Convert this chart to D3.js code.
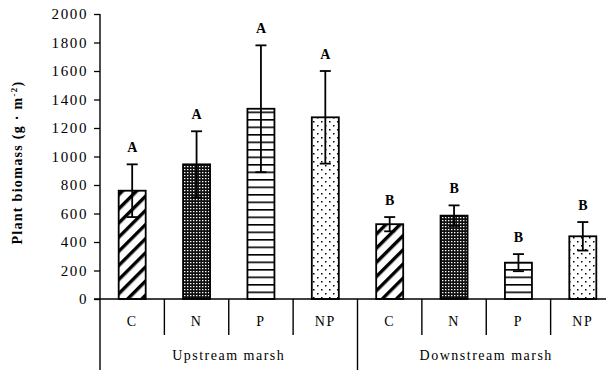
<!DOCTYPE html>
<html>
<head>
<meta charset="utf-8">
<script src="https://cdn.jsdelivr.net/npm/d3@7"></script>
<style>
  html, body { margin: 0; padding: 0; background: #fff; }
  svg { display: block; }
  text { font-family: "Liberation Serif", "Times New Roman", serif; fill: #000; }
</style>
</head>
<body>
<svg id="chart" width="606" height="370"></svg>
<script>
// Plant biomass by nutrient treatment in two marshes
const sites = ["Upstream marsh", "Downstream marsh"];
const treatments = ["C", "N", "P", "NP"];
const biomass = [760, 945, 1335, 1275, 525, 585, 255, 440];
const stdErr = [185, 232, 445, 325, 50, 72, 60, 100];
const letters = ["A", "A", "A", "A", "B", "B", "B", "B"];
const yTicks = [0, 200, 400, 600, 800, 1000, 1200, 1400, 1600, 1800, 2000];

const rows = biomass.map((v, i) => ({
  key: i,
  site: sites[Math.floor(i / treatments.length)],
  treatment: treatments[i % treatments.length],
  value: v,
  se: stdErr[i],
  letter: letters[i]
}));

const svg = d3.select("#chart");
const W = 606;
const plotLeft = 100, plotRight = 615, plotTop = 14, plotBottom = 299;

const x = d3.scaleBand().domain(rows.map(d => d.key)).range([plotLeft, plotRight]).paddingInner(0).paddingOuter(0);
const y = d3.scaleLinear().domain([0, 2000]).range([plotBottom, plotTop]);
const barW = 27;

// fill patterns for each treatment
const defs = svg.append("defs");

const diag = defs.append("pattern").attr("id", "pat-C")
  .attr("patternUnits", "userSpaceOnUse").attr("width", 10).attr("height", 10)
  .attr("patternTransform", "rotate(45)");
diag.append("rect").attr("width", 10).attr("height", 10).attr("fill", "#fff");
diag.append("rect").attr("x", 0).attr("y", 0).attr("width", 3.4).attr("height", 10).attr("fill", "#000");

const dense = defs.append("pattern").attr("id", "pat-N")
  .attr("patternUnits", "userSpaceOnUse").attr("width", 3).attr("height", 3);
dense.append("rect").attr("width", 3).attr("height", 3).attr("fill", "#111");
dense.append("rect").attr("x", 1).attr("y", 1).attr("width", 1.4).attr("height", 1.2).attr("fill", "#fff");

const horiz = defs.append("pattern").attr("id", "pat-P")
  .attr("patternUnits", "userSpaceOnUse").attr("width", 10).attr("height", 7.5)
  .attr("y", plotBottom);
horiz.append("rect").attr("width", 10).attr("height", 7.5).attr("fill", "#fff");
horiz.append("rect").attr("x", 0).attr("y", 0).attr("width", 10).attr("height", 1.6).attr("fill", "#000");

const dots = defs.append("pattern").attr("id", "pat-NP")
  .attr("patternUnits", "userSpaceOnUse").attr("width", 8).attr("height", 8);
dots.append("rect").attr("width", 8).attr("height", 8).attr("fill", "#fff");
dots.append("rect").attr("x", 1).attr("y", 1).attr("width", 1.5).attr("height", 1.5).attr("fill", "#000");
dots.append("rect").attr("x", 5).attr("y", 5).attr("width", 1.5).attr("height", 1.5).attr("fill", "#000");

// bars
svg.append("g").selectAll("rect").data(rows).join("rect")
  .attr("x", d => x(d.key) + x.bandwidth() / 2 - barW / 2)
  .attr("y", d => y(d.value))
  .attr("width", barW)
  .attr("height", d => y(0) - y(d.value))
  .attr("fill", d => `url(#pat-${d.treatment})`)
  .attr("stroke", "#000")
  .attr("stroke-width", 1.8);

// error bars
const capW = 11;
const err = svg.append("g").attr("stroke", "#000").attr("stroke-width", 1.8);
rows.forEach(d => {
  const cx = x(d.key) + x.bandwidth() / 2;
  err.append("line").attr("x1", cx).attr("x2", cx).attr("y1", y(d.value - d.se)).attr("y2", y(d.value + d.se));
  err.append("line").attr("x1", cx - capW / 2).attr("x2", cx + capW / 2).attr("y1", y(d.value + d.se)).attr("y2", y(d.value + d.se));
  err.append("line").attr("x1", cx - capW / 2).attr("x2", cx + capW / 2).attr("y1", y(d.value - d.se)).attr("y2", y(d.value - d.se));
});

// significance letters
svg.append("g").selectAll("text").data(rows).join("text")
  .attr("x", d => x(d.key) + x.bandwidth() / 2)
  .attr("y", d => y(d.value + d.se) - 12)
  .attr("text-anchor", "middle")
  .style("font-weight", "bold")
  .style("font-size", "14px")
  .text(d => d.letter);

// y axis
const yAxis = d3.axisLeft(y).tickValues(yTicks).tickSize(6).tickPadding(6).tickFormat(d3.format("d"));
const yg = svg.append("g").attr("transform", `translate(${plotLeft},0)`).call(yAxis);
yg.select(".domain").remove();
yg.selectAll(".tick line").attr("stroke", "#000").attr("stroke-width", 1.3);
yg.selectAll(".tick text")
  .style("font-family", "'Liberation Serif', serif")
  .style("font-size", "15px")
  .style("letter-spacing", "1.6px")
  .attr("fill", "#000");
svg.append("line").attr("x1", plotLeft).attr("x2", plotLeft).attr("y1", plotTop).attr("y2", 370)
  .attr("stroke", "#000").attr("stroke-width", 1.4);

// x axis baseline
svg.append("line").attr("x1", plotLeft - 6).attr("x2", W).attr("y1", plotBottom).attr("y2", plotBottom)
  .attr("stroke", "#000").attr("stroke-width", 1.4);

// treatment dividers and labels
const sepG = svg.append("g").attr("stroke", "#000").attr("stroke-width", 1.4);
rows.forEach((d, i) => {
  if (i === 0) return;
  const bx = x(d.key);
  const siteStart = i % treatments.length === 0;
  sepG.append("line").attr("x1", bx).attr("x2", bx).attr("y1", plotBottom).attr("y2", siteStart ? 370 : 335);
});
svg.append("g").selectAll("text").data(rows).join("text")
  .attr("x", d => x(d.key) + x.bandwidth() / 2)
  .attr("y", 326)
  .attr("text-anchor", "middle")
  .style("font-size", "14px")
  .style("letter-spacing", "1.5px")
  .text(d => d.treatment);

// site labels
sites.forEach((s, si) => {
  const first = rows[si * treatments.length].key;
  const last = rows[si * treatments.length + treatments.length - 1].key;
  const cx = (x(first) + x(last) + x.bandwidth()) / 2;
  svg.append("text").attr("x", cx).attr("y", 360)
    .attr("text-anchor", "middle")
    .style("font-size", "14px")
    .style("letter-spacing", "1.5px")
    .text(s);
});

// y axis title
const title = svg.append("text")
  .attr("transform", `translate(22,${(plotTop + plotBottom) / 2 + 6}) rotate(-90)`)
  .attr("text-anchor", "middle")
  .style("font-weight", "bold")
  .style("font-size", "14px")
  .style("letter-spacing", "1.3px");
title.append("tspan").text("Plant biomass (g · m");
title.append("tspan").attr("dy", -5).style("font-size", "9px").text("-2");
title.append("tspan").attr("dy", 5).text(")");
</script>
</body>
</html>
